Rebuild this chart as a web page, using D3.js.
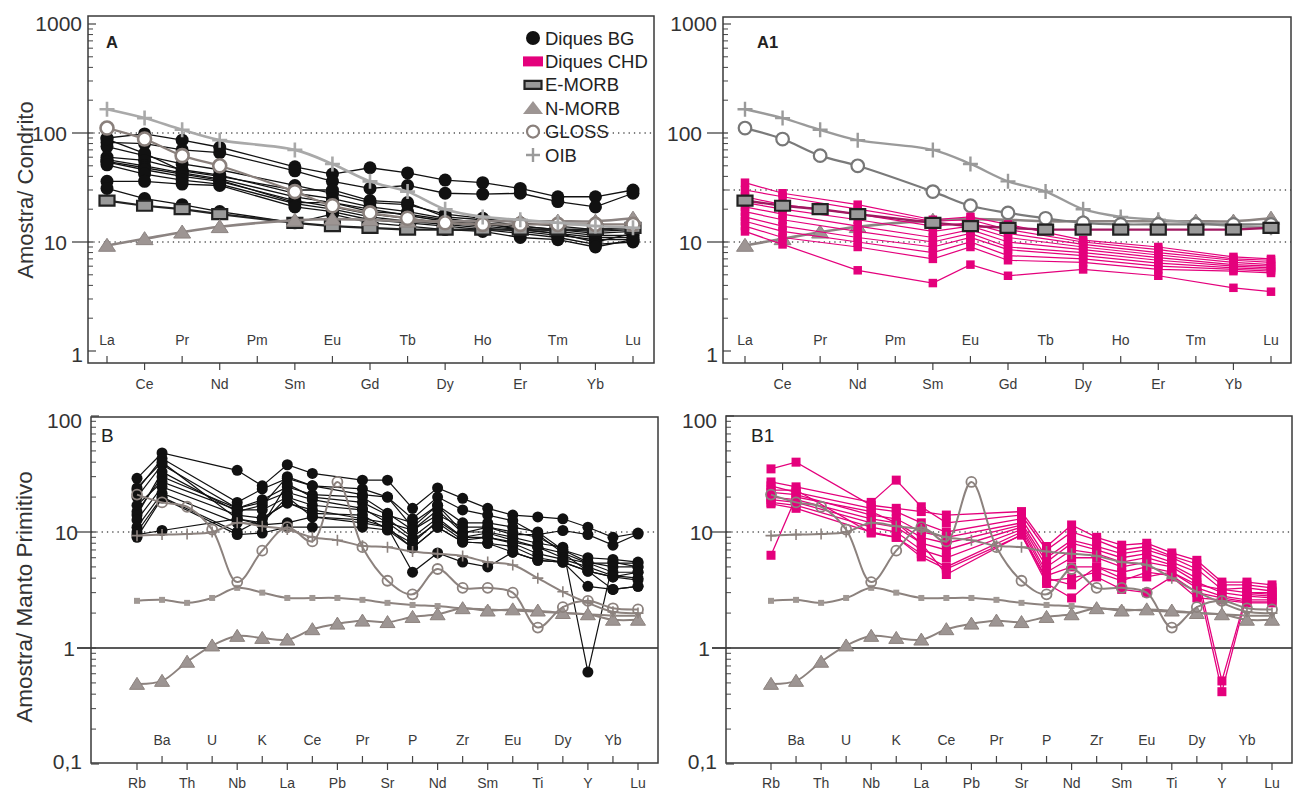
<!DOCTYPE html>
<html>
<head>
<meta charset="utf-8">
<script src="https://cdn.jsdelivr.net/npm/d3@7"></script>
<style>
  body { margin: 0; background: #fff; }
  svg { display: block; font-family: "Liberation Sans", Arial, Helvetica, sans-serif; }
</style>
</head>
<body>
<svg id="fig" width="1294" height="791"></svg>
<script>

// ---- element axes ----
let reeElems = ["La","Ce","Pr","Nd","Pm","Sm","Eu","Gd","Tb","Dy","Ho","Er","Tm","Yb","Lu"];
let reeRefElems = ["La","Ce","Pr","Nd","Sm","Eu","Gd","Tb","Dy","Ho","Er","Tm","Yb","Lu"];
let reeChdElems = ["La","Ce","Nd","Sm","Eu","Gd","Dy","Er","Yb","Lu"];

let pmElems = ["Rb","Ba","Th","U","Nb","K","La","Ce","Pb","Pr","Sr","P","Nd","Zr","Sm","Eu","Ti","Dy","Y","Yb","Lu"];
let pmBgElems = ["Rb","Ba","Nb","K","La","Ce","Pr","Sr","P","Nd","Zr","Sm","Eu","Ti","Dy","Y","Yb","Lu"];
let pmChdElems = ["Rb","Ba","Nb","K","La","Ce","Sr","P","Nd","Zr","Sm","Eu","Ti","Dy","Y","Yb","Lu"];

// ---- reference compositions, chondrite normalised (reeRefElems) ----
let oibREE   = [165, 137, 107, 86, 70, 52, 36, 29, 20, 17, 16, 15, 14, 13.5];
let glossREE = [111, 88, 62, 50, 29, 21.5, 18.5, 16.5, 15, 14.5, 14.5, 14.5, 14.5, 14.5];
let emorbREE = [24, 21.5, 20, 18, 15, 14, 13.5, 13, 13, 13, 13, 13, 13, 13.5];
let nmorbREE = [9.3, 10.7, 12.3, 13.8, 15.8, 16.2, 16, 15.5, 15.5, 15.5, 15.5, 15.5, 15.5, 16.5];

// ---- Diques BG, chondrite normalised (reeElems, Pm missing) ----
let bgREE = [
    [90, 98, 86, 74, null, 49, 42, 48, 43, 37, 35, 31, 26, 26, 30],
    [82, 80, 70, 66, null, 45, 36, 31, 33, 28, 27.5, 28, 23.5, 21, 28],
    [75, 62, 52, 46, null, 33, 28, 23, 22, 18, 16.5, 15, 14, 13, 14],
    [88, 65, 45, 40, null, 30, 30, 24, 23, 17, 16, 14, 13, 12.5, 13],
    [60, 56, 46, 41, null, 28, 25, 21, 19, 16.5, 15, 14, 13, 12, 12.5],
    [57, 50, 43, 38, null, 26, 23, 20, 17.5, 15.5, 14.5, 13.5, 12.5, 11.5, 11.5],
    [55, 48, 42, 37, null, 23, 23, 19, 18, 16, 15, 13, 12, 10, 12],
    [54, 46, 40, 36, null, 24, 21, 18, 16.5, 15, 14, 13, 12, 11, 11],
    [51, 42, 37, 34, null, 22.5, 20, 17, 15.5, 14.5, 13.5, 12.5, 11.5, 10.5, 10.5],
    [36, 36, 34, 33, null, 21, 19, 16, 15, 14, 13, 12, 11, 9.5, 10],
    [31, 25, 22, 19, null, 15, 18, 15, 14, 13, 12.5, 11, 10.5, 9, 10.5]
];

// ---- Diques CHD, chondrite normalised (reeChdElems) ----
let chdREE = [
    [35, 28, 22, 16, 17, 14.5, 10.4, 9, 7.3, 7],
    [30, 26, 20, 15.5, 16, 13, 10, 8.5, 7, 6.8],
    [26, 22, 18, 14, 15, 12, 9.5, 8, 6.8, 6.5],
    [23, 20, 16, 12.5, 14, 11, 9, 7.6, 6.5, 6.2],
    [21, 18, 14, 11, 13, 10, 8.5, 7.2, 6.2, 6],
    [19, 16, 12.5, 10, 12, 9, 8, 6.8, 6, 5.8],
    [17, 14, 11, 9, 11, 8.5, 7.5, 6.4, 5.8, 5.6],
    [15.5, 12.5, 10, 8, 10, 7.5, 7, 6, 5.6, 5.4],
    [14, 11, 9, 7, 9, 6.8, 6.5, 5.6, 5.4, 5.2],
    [12.5, 9.5, 5.5, 4.2, 6.2, 4.9, 5.6, 4.9, 3.8, 3.5]
];

// ---- reference compositions, primitive mantle normalised (pmElems) ----
let oibPM   = [9.3, 9.5, 9.6, 10, 12, 11.2, 10.5, 9, 8.5, 7.6, 7.4, 6.8, 6.5, 6.2, 5.5, 5.2, 4.0, 3.05, 2.45, 2.05, 2.0];
let glossPM = [21, 18, 16.5, 10.5, 3.7, 6.9, 11, 8.3, 27, 7.4, 3.8, 2.9, 4.8, 3.3, 3.3, 3.0, 1.5, 2.25, 2.55, 2.2, 2.15];
let emorbPM = [2.55, 2.6, 2.45, 2.7, 3.3, 3.0, 2.7, 2.7, 2.7, 2.6, 2.45, 2.35, 2.3, 2.2, 2.15, 2.1, 2.05, 2.0, 1.95, 1.9, 1.9];
let nmorbPM = [0.49, 0.52, 0.76, 1.05, 1.27, 1.22, 1.18, 1.45, 1.62, 1.72, 1.67, 1.85, 1.95, 2.2, 2.1, 2.15, 2.1, 2.0, 1.95, 1.75, 1.75];

// ---- Diques BG, primitive mantle normalised (pmBgElems) ----
let bgPM = [
    [29, 48, 34, 25, 38, 32, 28, 28, 16, 24, 19.5, 16, 14, 13.5, 13, 11, 9, 9.8],
    [23, 43, 18, 23.5, 29, 25, 23.5, 20, 13, 20, 15.5, 14, 12.5, 9.5, 10.3, 9.5, 7.7, 9.6],
    [20, 38, 16, 19, 24.5, 21, 20, 14.5, 10.4, 15.5, 9.8, 11, 9.5, 9.5, 6.6, 5.4, 5.4, 5.4],
    [24, 40, 13, 11.5, 26, 20, 18, 14, 12, 17, 10, 10, 9, 8, 7.4, 0.62, 5.5, 5],
    [14, 33, 15, 17, 30, 25, 21, 20, 11, 17, 12, 12, 11, 10, 7, 6, 5.8, 5.5],
    [15, 30, 16, 18, 22, 19, 16, 12, 10.4, 14, 11, 11, 10, 9, 7, 5.5, 5, 5],
    [17, 27, 15.5, 15.5, 20, 17, 15.5, 13, 9, 13.2, 9, 9.8, 8.5, 7.4, 6.6, 4.6, 4.1, 4.5],
    [12.7, 24.5, 14, 13.2, 17.7, 15.5, 13, 12, 8.5, 12, 8.5, 9, 8.2, 7.4, 6, 5.4, 4.5, 4.5],
    [11, 21.6, 12, 11.5, 12, 13.5, 12.7, 11, 7.3, 11, 8.2, 8, 7.5, 6, 5.5, 4.6, 3.2, 3.4],
    [10, 20, 10, 13, 18, 14.5, 14, 10.5, 8, 12.5, 9, 9, 8, 6.5, 5.8, 5, 4.2, 4],
    [9, 19.6, 9.5, 9.8, 11, 11, 11, 10.4, 7.3, 11, 8.2, 8, 6.7, 5.7, 5.5, 4.6, 4.1, 3.85],
    [9.5, 10.3, 13, 12, 20, 13.5, 12, 11, 4.5, 6.6, 5.5, 5, 6.7, 5.7, 5.5, 3.4, 3.2, 3.4]
];

// ---- Diques CHD, primitive mantle normalised (pmChdElems) ----
let chdPM = [
    [35, 40, 17, 16, 15, 14, 15, 7.5, 11.5, 9, 7.7, 8, 6.6, 5.7, 3.7, 3.7, 3.5],
    [27, 24.5, 18, 28, 16.5, 12, 14, 7, 10, 8.5, 7, 7.5, 6.2, 5.3, 3.5, 3.5, 3.3],
    [25, 22, 16, 15, 12, 10, 13, 6, 8.5, 7.5, 6.5, 7, 6, 4.8, 3.2, 3.3, 3.1],
    [22, 21, 14, 13, 10, 9, 12, 5.5, 8, 7, 6, 6.5, 5.5, 4.5, 0.52, 3, 3],
    [20, 19, 13, 12, 9, 8, 11.5, 5, 7, 6.5, 5.5, 6, 5.2, 4, 0.42, 2.9, 2.8],
    [19, 18, 12, 11, 8, 7, 11, 4.5, 6, 6, 5, 5.5, 5, 3.7, 3, 2.8, 2.7],
    [18, 17, 11, 10, 7, 6, 10.5, 4.2, 5, 5, 4.5, 5, 4.5, 3.3, 2.8, 2.6, 2.6],
    [17.5, 16, 10, 9, 6.5, 5, 10, 3.8, 4, 4.5, 3.8, 4.5, 4.2, 3, 2.7, 2.5, 2.5],
    [23, 23, 9.8, 9, 6.1, 4.8, 9.4, 4, 3.5, 5, 4, 4.1, 4.5, 3.5, 3.2, 3, 2.9],
    [6.3, 20, 15, 12, 8, 4.3, 9.5, 3.6, 2.7, 4.1, 3.2, 3, 4.1, 2.7, 2.6, 2.45, 2.45]
];

let legendNames = ["Diques BG", "Diques CHD", "E-MORB", "N-MORB", "GLOSS", "OIB"];

// ---------------------------------------------------------------

let svg = d3.select("#fig");
let PINK = "#e4007c";
let REFC = "#8c827e";

// marker shapes
let shapes = {
    circle: function (r) { return `M${-r},0a${r},${r} 0 1,0 ${2*r},0a${r},${r} 0 1,0 ${-2*r},0Z`; },
    rect:   function (w, h) { return `M${-w/2},${-h/2}h${w}v${h}h${-w}Z`; },
    tri:    function (w, h) { return `M0,${-h*0.55}L${w/2},${h*0.45}L${-w/2},${h*0.45}Z`; },
    plus:   function (s) { return `M${-s},0H${s}M0,${-s}V${s}`; }
};

function makePanel(cfg) {
    let g = svg.append("g");
    let [x0, y0, x1, y1] = cfg.box;
    let x = d3.scalePoint().domain(cfg.elems).range(cfg.xr);
    let y = d3.scaleLog().domain(cfg.yd).range(cfg.yr);

    // dotted / solid reference lines
    cfg.dotted.forEach(function (v) {
        g.append("line")
            .attr("x1", x0).attr("x2", x1).attr("y1", y(v)).attr("y2", y(v))
            .attr("stroke", "#555").attr("stroke-width", 1.4)
            .attr("stroke-dasharray", "1.3,4");
    });
    cfg.solid.forEach(function (v) {
        g.append("line")
            .attr("x1", x0 - 14).attr("x2", x1).attr("y1", y(v)).attr("y2", y(v))
            .attr("stroke", "#222").attr("stroke-width", 1.3);
    });

    // minor ticks on the log axis
    let minors = [];
    for (let d = cfg.yd[0]; d < cfg.yd[1] * 0.99; d *= 10) {
        for (let k = 2; k <= 9; k++) minors.push(d * k);
    }
    g.selectAll("line.minor").data(minors).enter()
        .append("line").classed("minor", true)
        .attr("x1", x0).attr("x2", x0 + 5)
        .attr("y1", function (d) { return y(d); })
        .attr("y2", function (d) { return y(d); })
        .attr("stroke", "#444").attr("stroke-width", 1);

    // major ticks + labels
    cfg.yTicks.forEach(function (t) {
        if (t.dash) {
            g.append("line")
                .attr("x1", x0 - t.dash).attr("x2", x0 + 5)
                .attr("y1", y(t.v)).attr("y2", y(t.v))
                .attr("stroke", "#444").attr("stroke-width", 1.3);
        } else {
            g.append("line")
                .attr("x1", x0).attr("x2", x0 + 8)
                .attr("y1", y(t.v)).attr("y2", y(t.v))
                .attr("stroke", "#444").attr("stroke-width", 1.2);
        }
        g.append("text")
            .attr("x", x0 - t.gap).attr("y", y(t.v) + (t.dy || 0))
            .attr("dy", "0.36em")
            .attr("text-anchor", "end")
            .attr("font-size", 21)
            .attr("fill", "#333")
            .text(t.label);
    });

    // element ticks + labels
    cfg.elems.forEach(function (e, i) {
        let inside = (i % 2) === cfg.insideParity;
        let xp = x(e);
        g.append("line")
            .attr("x1", xp).attr("x2", xp)
            .attr("y1", inside ? y1 - 7 : y1)
            .attr("y2", inside ? y1 : y1 + 7)
            .attr("stroke", "#444").attr("stroke-width", 1.2);
        g.append("text")
            .attr("x", xp).attr("y", inside ? cfg.inY : cfg.outY)
            .attr("text-anchor", "middle")
            .attr("font-size", 14)
            .attr("fill", "#3a3a3a")
            .text(e);
    });

    // frame
    g.append("rect")
        .attr("x", x0).attr("y", y0).attr("width", x1 - x0).attr("height", y1 - y0)
        .attr("fill", "none").attr("stroke", "#3a3a3a").attr("stroke-width", 1.5);

    // panel letter
    g.append("text")
        .attr("x", cfg.letter.x).attr("y", cfg.letter.y)
        .attr("font-size", cfg.letter.size)
        .attr("font-weight", cfg.letter.bold ? "bold" : "normal")
        .attr("fill", "#222")
        .text(cfg.letter.text);

    return { g: g, x: x, y: y };
}

function drawSeries(p, elems, vals, st) {
    let pts = elems.map(function (e, i) { return { e: e, v: vals[i] }; })
        .filter(function (d) { return d.v != null; });
    let line = d3.line()
        .x(function (d) { return p.x(d.e); })
        .y(function (d) { return p.y(d.v); })
        .curve(st.curve || d3.curveLinear);
    let g = p.g.append("g");
    g.append("path")
        .attr("d", line(pts))
        .attr("fill", "none")
        .attr("stroke", st.line)
        .attr("stroke-width", st.lw);
    g.selectAll("path.mk").data(pts).enter()
        .append("path").classed("mk", true)
        .attr("transform", function (d) { return `translate(${p.x(d.e)},${p.y(d.v)})`; })
        .attr("d", st.shape)
        .attr("fill", st.fill || "none")
        .attr("stroke", st.stroke || "none")
        .attr("stroke-width", st.sw || 0);
}

let smooth = d3.curveCatmullRom.alpha(0.5);

// ---- panel configs ----
let reeTicks = [
    { v: 1, label: "1", gap: 5, dy: 3 },
    { v: 10, label: "10", gap: 21, dash: 16 },
    { v: 100, label: "100", gap: 21, dash: 16 },
    { v: 1000, label: "1000", gap: 6, dy: -1 }
];
let pmTicks = [
    { v: 0.1, label: "0,1", gap: 9, dy: -3 },
    { v: 1, label: "1", gap: 16, dash: 14 },
    { v: 10, label: "10", gap: 13, dash: 14 },
    { v: 100, label: "100", gap: 9, dy: 4 }
];

let pA = makePanel({
    box: [88, 16, 654, 363], elems: reeElems, xr: [107, 633],
    yd: [1, 1000], yr: [351, 24], yTicks: reeTicks,
    dotted: [100, 10], solid: [], insideParity: 0, inY: 345, outY: 389,
    letter: { text: "A", x: 106, y: 48, size: 16.5, bold: true }
});
let pA1 = makePanel({
    box: [723, 17, 1291, 363], elems: reeElems, xr: [745, 1271],
    yd: [1, 1000], yr: [351, 24], yTicks: reeTicks,
    dotted: [30, 10], solid: [], insideParity: 0, inY: 345, outY: 389,
    letter: { text: "A1", x: 757, y: 48, size: 16.5, bold: true }
});
let pB = makePanel({
    box: [91, 417, 658, 763], elems: pmElems, xr: [137, 638],
    yd: [0.1, 100], yr: [764, 416], yTicks: pmTicks,
    dotted: [10], solid: [1], insideParity: 1, inY: 745, outY: 788,
    letter: { text: "B", x: 101, y: 442, size: 19, bold: false }
});
let pB1 = makePanel({
    box: [726, 416, 1292, 763], elems: pmElems, xr: [771, 1272],
    yd: [0.1, 100], yr: [764, 416], yTicks: pmTicks,
    dotted: [10], solid: [1], insideParity: 1, inY: 745, outY: 788,
    letter: { text: "B1", x: 751, y: 442, size: 19, bold: false }
});

// ---- series styles ----
let stBgA   = { line: "#111", lw: 1.3, shape: shapes.circle(6.5), fill: "#111" };
let stBgB   = { line: "#111", lw: 1.2, shape: shapes.circle(5.5), fill: "#111" };
let stChdA  = { line: PINK, lw: 1.2, shape: shapes.rect(8.5, 8.5), fill: PINK };
let stChdB  = { line: PINK, lw: 1.3, shape: shapes.rect(9, 9), fill: PINK };

let stOibA   = { line: "#a9a9a9", lw: 2.6, curve: smooth, shape: shapes.plus(7.5), stroke: "#a9a9a9", sw: 2.6 };
let stGlossA = { line: "#8a807c", lw: 2.2, curve: smooth, shape: shapes.circle(6.5), fill: "#fff", stroke: "#8a807c", sw: 2.6 };
let stEmorbA = { line: "#222", lw: 2.2, shape: shapes.rect(15, 10), fill: "#9a9a9a", stroke: "#222", sw: 2.2 };
let stNmorbA = { line: "#8c8482", lw: 2.6, curve: smooth, shape: shapes.tri(17, 13), fill: "#9d9593", stroke: "#8c8482", sw: 1 };

let stOibA1   = { line: "#9a9a9a", lw: 2.4, curve: smooth, shape: shapes.plus(7.5), stroke: "#9a9a9a", sw: 2.4 };
let stGlossA1 = { line: "#7a7a7a", lw: 2.2, curve: smooth, shape: shapes.circle(6.3), fill: "#fff", stroke: "#777", sw: 2.2 };
let stEmorbA1 = { line: "#a01860", lw: 2.4, shape: shapes.rect(15, 10), fill: "#9a9a9a", stroke: "#222", sw: 2.2 };

let stOibB   = { line: REFC, lw: 2, curve: smooth, shape: shapes.plus(5.5), stroke: REFC, sw: 1.6 };
let stGlossB = { line: REFC, lw: 2, curve: smooth, shape: shapes.circle(5), fill: "none", stroke: REFC, sw: 1.8 };
let stEmorbB = { line: REFC, lw: 2, curve: smooth, shape: shapes.rect(6, 6), fill: "#a09894", stroke: "none" };
let stNmorbB = { line: REFC, lw: 2, curve: smooth, shape: shapes.tri(15, 12), fill: "#9d9593", stroke: REFC, sw: 1 };

// ---- panel A ----
bgREE.forEach(function (s) { drawSeries(pA, reeElems, s, stBgA); });
drawSeries(pA, reeRefElems, emorbREE, stEmorbA);
drawSeries(pA, reeRefElems, nmorbREE, stNmorbA);
drawSeries(pA, reeRefElems, glossREE, stGlossA);
drawSeries(pA, reeRefElems, oibREE, stOibA);

// ---- panel A1 ----
drawSeries(pA1, reeRefElems, nmorbREE, stNmorbA);
drawSeries(pA1, reeRefElems, oibREE, stOibA1);
drawSeries(pA1, reeRefElems, glossREE, stGlossA1);
chdREE.forEach(function (s) { drawSeries(pA1, reeChdElems, s, stChdA); });
drawSeries(pA1, reeRefElems, emorbREE, stEmorbA1);

// ---- panel B ----
bgPM.forEach(function (s) { drawSeries(pB, pmBgElems, s, stBgB); });
drawSeries(pB, pmElems, emorbPM, stEmorbB);
drawSeries(pB, pmElems, nmorbPM, stNmorbB);
drawSeries(pB, pmElems, oibPM, stOibB);
drawSeries(pB, pmElems, glossPM, stGlossB);

// ---- panel B1 ----
chdPM.forEach(function (s) { drawSeries(pB1, pmChdElems, s, stChdB); });
drawSeries(pB1, pmElems, emorbPM, stEmorbB);
drawSeries(pB1, pmElems, nmorbPM, stNmorbB);
drawSeries(pB1, pmElems, oibPM, stOibB);
drawSeries(pB1, pmElems, glossPM, stGlossB);

// ---- legend (panel A) ----
let legendMarks = [
    { shape: shapes.circle(7), fill: "#111" },
    { shape: shapes.rect(20, 10), fill: PINK },
    { shape: shapes.rect(17, 8), fill: "#9a9a9a", stroke: "#222", sw: 2.2 },
    { shape: shapes.tri(20, 13), fill: "#9d9593" },
    { shape: shapes.circle(6), fill: "#fff", stroke: "#8a807c", sw: 2.2 },
    { shape: shapes.plus(7), stroke: "#9a9a9a", sw: 2.4 }
];
let legendY = d3.scalePoint().domain(legendNames).range([38, 155]);
let leg = svg.append("g");
legendNames.forEach(function (name, i) {
    let m = legendMarks[i];
    leg.append("path")
        .attr("transform", `translate(533,${legendY(name)})`)
        .attr("d", m.shape)
        .attr("fill", m.fill || "none")
        .attr("stroke", m.stroke || "none")
        .attr("stroke-width", m.sw || 0);
    leg.append("text")
        .attr("x", 545).attr("y", legendY(name))
        .attr("dy", "0.36em")
        .attr("font-size", 18.5)
        .attr("fill", "#222")
        .text(name);
});

// ---- axis titles ----
svg.append("text")
    .attr("transform", "translate(33,190) rotate(-90)")
    .attr("text-anchor", "middle")
    .attr("font-size", 22)
    .attr("fill", "#333")
    .text("Amostra/ Condrito");
svg.append("text")
    .attr("transform", "translate(32,597) rotate(-90)")
    .attr("text-anchor", "middle")
    .attr("font-size", 22.5)
    .attr("fill", "#333")
    .text("Amostra/ Manto Primitivo");

</script>
</body>
</html>
